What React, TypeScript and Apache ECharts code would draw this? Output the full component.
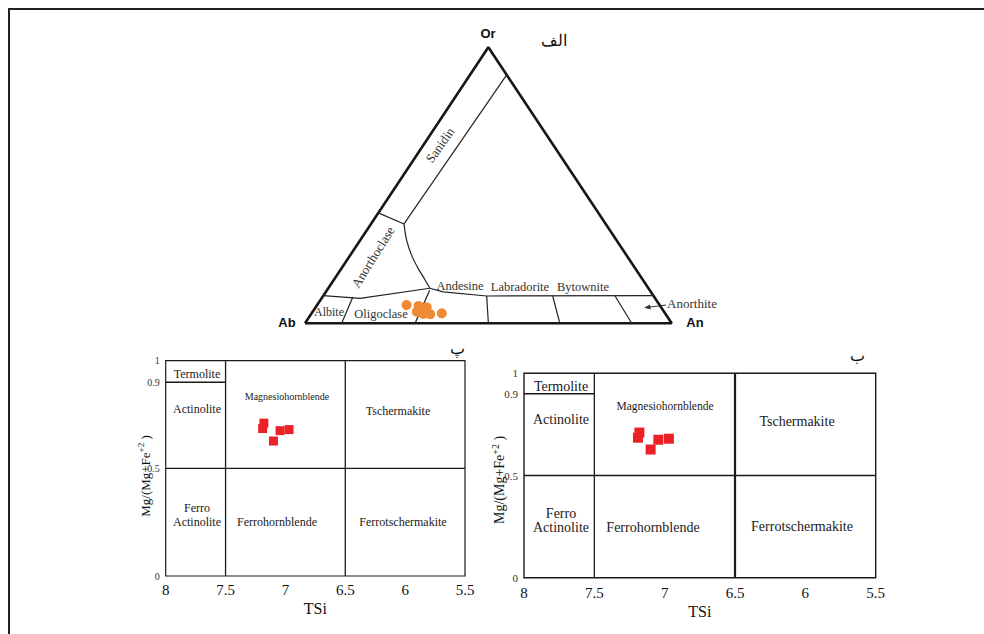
import React, { useEffect, useRef } from "react";
import * as echarts from "echarts";

// Feldspar analyses, mol % (Ab = 100 - An - Or)
const feldsparAn = [24.4, 27.8, 30.3, 28.4, 30.6, 32.5, 35.5, 28.9, 30.2];
const feldsparOr = [6.6, 6.3, 5.8, 4.2, 3.4, 3.3, 3.6, 5.0, 5.0];

// Amphibole analyses: TSi (apfu) and Mg/(Mg+Fe2+)
const amphTSi = [7.18, 7.19, 7.045, 6.97, 7.1];
const amphMgNo = [0.71, 0.685, 0.675, 0.68, 0.627];

// Axis tick labels
const tsiTicks = [8, 7.5, 7, 6.5, 6, 5.5];
const mgTicks = [0, 0.5, 0.9, 1];

// Feldspar field boundaries as [An, Or] pairs
const feldsparOutline: [number, number][] = [[0, 0], [100, 0], [0, 100], [0, 0]];
const feldsparBoundaries: [number, number][][] = [
  [[10, 90], [9, 36]],
  [[0, 40], [9, 36]],
  [[9, 36], [12.6, 30.2], [16.7, 24.7], [20.9, 19.9], [24.9, 15.7], [27.7, 12.7]],
  [[0, 10], [10.5, 9], [27.7, 12.7]],
  [[27.7, 12.7], [32, 11.4], [44.6, 9.9], [90, 10]],
  [[8.3, 9.5], [10, 0]],
  [[28, 12], [30, 0]],
  [[44.6, 9.9], [50, 0]],
  [[62.6, 9.9], [69.5, 0]],
  [[79.6, 9.9], [89.1, 0]],
];
const curvedBoundary = 2;

// Amphibole classification boundaries as [TSi, Mg#] pairs
const amphBoundaries: [number, number][][] = [
  [[7.5, 0], [7.5, 1]],
  [[6.5, 0], [6.5, 1]],
  [[8, 0.5], [5.5, 0.5]],
  [[8, 0.9], [7.5, 0.9]],
];

const SERIF = "'Liberation Serif', 'Times New Roman', 'DejaVu Serif', serif";
const SANS = "'Liberation Sans', Arial, sans-serif";

// ternary [An, Or] -> planar x/y in the triangle grid
const toPlane = (an: number, or: number) => [an + or / 2, or];

function txt(x: number, y: number, text: string, size: number, extra: any = {}) {
  const { rotation, ...style } = extra;
  return {
    type: "text",
    x,
    y,
    rotation: rotation || 0,
    silent: true,
    style: {
      text,
      fontSize: size,
      fontFamily: SERIF,
      fill: "#1a1a1a",
      align: "center",
      verticalAlign: "middle",
      ...style,
    },
  };
}

function amphAxes(gridIndex: number, tickSize: number, ySize: number, labelMargin: number, nameGap: number, nameSize: number) {
  const xAxis = {
    type: "value",
    gridIndex,
    inverse: true,
    min: 5.5,
    max: 8,
    interval: 0.5,
    axisLine: { show: false },
    axisTick: { show: false },
    splitLine: { show: false },
    axisLabel: {
      fontFamily: SERIF,
      fontSize: tickSize,
      color: "#111",
      margin: labelMargin,
      formatter: (v: number) => {
        const t = tsiTicks.find((k) => Math.abs(k - v) < 1e-6);
        return t === undefined ? "" : String(t);
      },
    },
    name: "TSi",
    nameLocation: "middle",
    nameGap,
    nameTextStyle: { fontFamily: SERIF, fontSize: nameSize, color: "#111" },
  };
  const yAxis = {
    type: "value",
    gridIndex,
    min: 0,
    max: 1,
    interval: 0.1,
    axisLine: { show: false },
    axisTick: { show: false },
    splitLine: { show: false },
    axisLabel: {
      fontFamily: SERIF,
      fontSize: ySize,
      color: "#333",
      margin: 6,
      formatter: (v: number) => {
        const t = mgTicks.find((k) => Math.abs(k - v) < 1e-6);
        return t === undefined ? "" : String(t);
      },
    },
  };
  return { xAxis, yAxis };
}

function buildOption() {
  const left = amphAxes(1, 15, 10, 6, 24, 16);
  const right = amphAxes(2, 15, 11, 8, 26, 16);

  const series: any[] = [];
  series.push({
    type: "line",
    xAxisIndex: 0,
    yAxisIndex: 0,
    data: feldsparOutline.map(([a, o]) => toPlane(a, o)),
    symbol: "none",
    clip: false,
    silent: true,
    lineStyle: { color: "#161616", width: 2.6 },
  });
  feldsparBoundaries.forEach((b, i) => {
    series.push({
      type: "line",
      xAxisIndex: 0,
      yAxisIndex: 0,
      data: b.map(([a, o]) => toPlane(a, o)),
      symbol: "none",
      smooth: i === curvedBoundary ? 0.35 : false,
      clip: false,
      silent: true,
      lineStyle: { color: "#222", width: 1.2 },
    });
  });
  series.push({
    type: "scatter",
    xAxisIndex: 0,
    yAxisIndex: 0,
    data: feldsparAn.map((a, i) => toPlane(a, feldsparOr[i])),
    symbol: "circle",
    symbolSize: 10,
    itemStyle: { color: "#ef8a36", opacity: 1 },
    z: 5,
  });

  [1, 2].forEach((g) => {
    amphBoundaries.forEach((b) => {
      const thick = g === 2 && b[0][0] === 6.5 && b[1][0] === 6.5;
      series.push({
        type: "line",
        xAxisIndex: g,
        yAxisIndex: g,
        data: b,
        symbol: "none",
        clip: false,
        silent: true,
        lineStyle: { color: "#1a1a1a", width: thick ? 2.2 : 1.3 },
      });
    });
    series.push({
      type: "scatter",
      xAxisIndex: g,
      yAxisIndex: g,
      data: amphTSi.map((t, i) => [t, amphMgNo[i]]),
      symbol: "rect",
      symbolSize: g === 1 ? 9 : 10,
      itemStyle: { color: "#ec2027", opacity: 1 },
      z: 5,
    });
  });

  const yName = (x: number, y: number, size: number) => ({
    type: "text",
    x,
    y,
    rotation: Math.PI / 2,
    silent: true,
    style: {
      text: "{a|Mg/(Mg+Fe}{s|+2}{a| )}",
      rich: {
        a: { fontFamily: SERIF, fontSize: size, fill: "#111" },
        s: { fontFamily: SERIF, fontSize: Math.round(size * 0.68), fill: "#111", padding: [0, 0, 8, 0] },
      },
      align: "center",
      verticalAlign: "middle",
    },
  });

  const graphic: any[] = [
    {
      type: "rect",
      silent: true,
      shape: { x: 9, y: 9, width: 1000, height: 1000 },
      style: { fill: "none", stroke: "#222", lineWidth: 2 },
    },
    // ternary apices
    txt(488, 33, "Or", 13, { fontFamily: SANS, fontWeight: "bold", fill: "#111" }),
    txt(287, 322, "Ab", 13, { fontFamily: SANS, fontWeight: "bold", fill: "#111" }),
    txt(695, 322, "An", 13, { fontFamily: SANS, fontWeight: "bold", fill: "#111" }),
    txt(554, 40, "الف", 16, { fill: "#111" }),
    // feldspar fields
    txt(440, 145, "Sanidin", 13, { rotation: (55 * Math.PI) / 180, fill: "#333" }),
    txt(373, 257, "Anorthoclase", 13, { rotation: (58 * Math.PI) / 180, fill: "#333" }),
    txt(460, 286, "Andesine", 12.5, { fill: "#333" }),
    txt(520, 287, "Labradorite", 12.5, { fill: "#333" }),
    txt(583, 287, "Bytownite", 12.5, { fill: "#333" }),
    txt(692, 303, "Anorthite", 13, { fill: "#333" }),
    txt(329, 312, "Albite", 12, { fill: "#333" }),
    txt(381, 314, "Oligoclase", 12.5, { fill: "#333" }),
    {
      type: "line",
      silent: true,
      shape: { x1: 666, y1: 305, x2: 646, y2: 307.5 },
      style: { stroke: "#333", lineWidth: 1 },
    },
    {
      type: "polygon",
      silent: true,
      shape: { points: [[644, 307.8], [650, 304.6], [650.8, 309.4]] },
      style: { fill: "#333" },
    },
    // left amphibole plot
    txt(457, 348, "پ", 16, { fill: "#111" }),
    txt(197, 374, "Termolite", 12),
    txt(197, 409, "Actinolite", 12),
    txt(287, 396, "Magnesiohornblende", 10),
    txt(398, 411, "Tschermakite", 12),
    txt(197, 515, "Ferro\nActinolite", 12, { lineHeight: 13.5 }),
    txt(277, 522, "Ferrohornblende", 12),
    txt(403, 522, "Ferrotschermakite", 12),
    yName(145, 476, 13),
    // right amphibole plot
    txt(857, 355, "ب", 16, { fill: "#111" }),
    txt(561, 386, "Termolite", 14),
    txt(561, 419, "Actinolite", 14),
    txt(665, 406, "Magnesiohornblende", 11.5),
    txt(797, 421, "Tschermakite", 14),
    txt(561, 520, "Ferro\nActinolite", 14, { lineHeight: 14 }),
    txt(653, 527, "Ferrohornblende", 14),
    txt(802, 526, "Ferrotschermakite", 14),
    yName(499, 480, 14),
  ];

  return {
    animation: false,
    backgroundColor: "#fff",
    grid: [
      { left: 305, top: 47.3, width: 366.7, height: 276, show: false },
      { left: 165.7, top: 360.7, width: 299.3, height: 215.3, show: true, borderColor: "#1a1a1a", borderWidth: 1.2 },
      { left: 524, top: 373.3, width: 351.7, height: 204.4, show: true, borderColor: "#1a1a1a", borderWidth: 1.4 },
    ],
    xAxis: [
      { type: "value", gridIndex: 0, min: 0, max: 100, show: false },
      left.xAxis,
      right.xAxis,
    ],
    yAxis: [
      { type: "value", gridIndex: 0, min: 0, max: 100, show: false },
      left.yAxis,
      right.yAxis,
    ],
    series,
    graphic,
  };
}

export default function App() {
  const ref = useRef<HTMLDivElement>(null);
  useEffect(() => {
    if (!ref.current) return;
    const chart = echarts.init(ref.current, null, { renderer: "svg" });
    chart.setOption(buildOption() as any);
    return () => chart.dispose();
  }, []);
  return (
    <div
      ref={ref}
      style={{ position: "absolute", left: 0, top: 0, width: 984, height: 634, background: "#fff" }}
    />
  );
}
